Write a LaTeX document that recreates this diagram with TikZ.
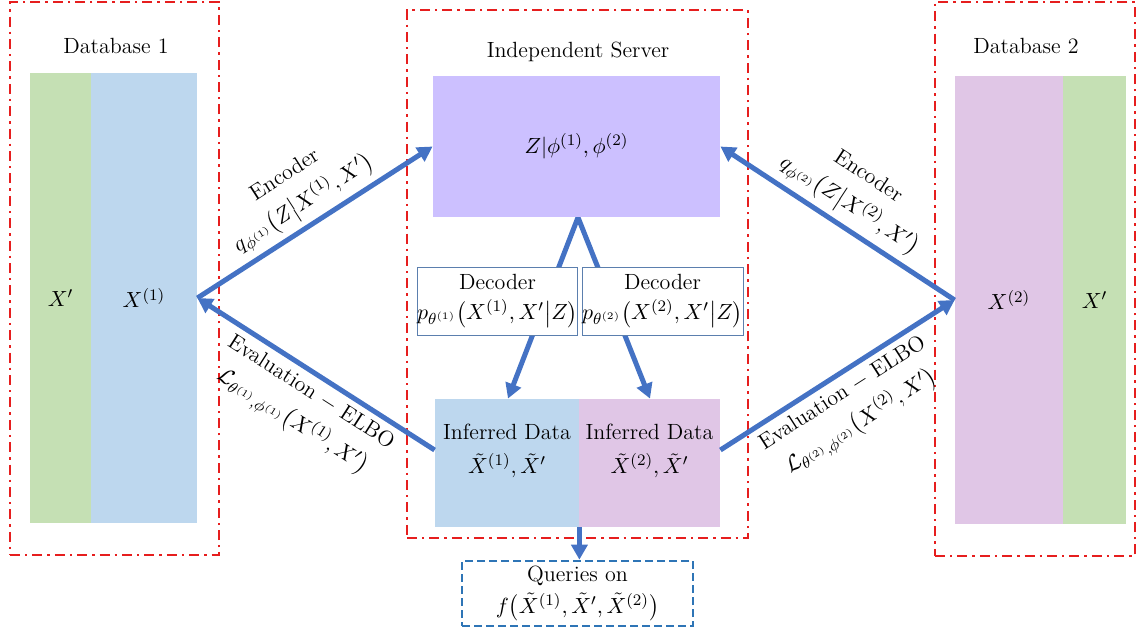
\documentclass[tikz,border=0pt]{standalone}
\usepackage{amsmath}
\usetikzlibrary{arrows.meta,calc}
\definecolor{flowblue}{HTML}{4472C4}
\definecolor{dbblue}{HTML}{BDD7EE}
\definecolor{sharedgreen}{HTML}{C5E0B4}
\definecolor{dbpurple}{HTML}{E0C6E6}
\definecolor{serverpurple}{HTML}{CCC0FF}
\definecolor{framered}{HTML}{E61E1E}
\definecolor{queryblue}{HTML}{2E75B6}
\definecolor{decborder}{HTML}{5B7FAE}
\pgfdeclarelayer{bg}
\pgfsetlayers{bg,main}
\tikzset{
  region/.style={rectangle, draw=framered, line width=1.2pt,
    dash pattern=on 5pt off 2.5pt on 1.2pt off 2.5pt, inner sep=0pt},
  block/.style={rectangle, draw=none, inner sep=0pt},
  decbox/.style={rectangle, draw=decborder, line width=0.5pt, fill=white,
    inner sep=0pt, align=center},
  query/.style={rectangle, draw=queryblue, line width=1.3pt,
    dash pattern=on 4pt off 2pt, inner sep=0pt, align=center},
  flow/.style={draw=flowblue, line width=2.5pt,
    -{Triangle[length=7.5pt,width=8pt]}},
  lbl/.style={align=center, inner sep=1pt},
  every node/.style={font=\fontsize{11pt}{14pt}\selectfont}
}
\begin{document}
\begin{tikzpicture}[x=0.5pt,y=-0.5pt]
\useasboundingbox (0,0) rectangle (1137,632);

% dash-dot frames of the three parties
\node[region, minimum width=104.5pt, minimum height=276.5pt] (db1frame) at (114.5,278.5) {};
\node[region, minimum width=170.5pt, minimum height=264pt] (srvframe) at (577.5,274) {};
\node[region, minimum width=100pt, minimum height=277pt] (db2frame) at (1035,279) {};

% titles
\node (db1title) at (116,46) {Database 1};
\node (srvtitle) at (578,52) {Independent Server};
\node (db2title) at (1026,46) {Database 2};

% database columns
\node[block, fill=sharedgreen, minimum width=30.5pt, minimum height=225pt] (xs1) at (60.5,298) {$X'$};
\node[block, fill=dbblue, minimum width=53pt, minimum height=225pt] (x1) at (144,298) {$X^{(1)}$};
\node[block, fill=dbpurple, minimum width=54pt, minimum height=224pt] (x2) at (1009,300) {$X^{(2)}$};
\node[block, fill=sharedgreen, minimum width=31.5pt, minimum height=224pt] (xs2) at (1094.5,300) {$X'$};

% server latent space
\node[block, fill=serverpurple, minimum width=143.5pt, minimum height=70.5pt] (server) at (576.5,146.5) {$Z|\phi^{(1)},\phi^{(2)}$};

% inferred data
\node[block, fill=dbblue, minimum width=72pt, minimum height=64pt] (inf1) at (507,463) {};
\node[block, fill=dbpurple, minimum width=70.5pt, minimum height=64pt] (inf2) at (649.5,463) {};
\node[lbl] (inf1text) at (507,451) {Inferred Data\\[3pt] $\tilde{X}^{(1)},\tilde{X}'$};
\node[lbl] (inf2text) at (649.5,451) {Inferred Data\\[3pt] $\tilde{X}^{(2)},\tilde{X}'$};

% decoder branches, drawn beneath the decoder boxes
\coordinate (apex) at ($(server.south)+(1.5,0)$);
\coordinate (dtip1) at ($(inf1.north)+(1,0)$);
\coordinate (dtip2) at ($(inf2.north)+(0.5,0)$);
\begin{pgfonlayer}{bg}
\draw[draw=flowblue, line width=2.5pt, line join=miter,
  {Triangle[length=7.5pt,width=8pt]}-{Triangle[length=7.5pt,width=8pt]}]
  (dtip1) -- (apex) -- (dtip2);
\end{pgfonlayer}

\node[decbox, minimum width=79.5pt, minimum height=34pt] (dec1) at (497.5,301)
  {Decoder\\[1pt] $p_{\theta^{(1)}}\bigl(X^{(1)},X'\big|Z\bigr)$};
\node[decbox, minimum width=80.5pt, minimum height=34pt] (dec2) at (662.5,301)
  {Decoder\\[1pt] $p_{\theta^{(2)}}\bigl(X^{(2)},X'\big|Z\bigr)$};

% query box
\node[query, minimum width=115.5pt, minimum height=32.5pt] (queries) at (577.5,593.5)
  {Queries on\\[2pt] $f\bigl(\tilde{X}^{(1)},\tilde{X}',\tilde{X}^{(2)}\bigr)$};

% encoder arrows
\draw[flow] (x1.east) -- (server.west);
\draw[flow] (x2.west) -- (server.east);
\path (x1.east) -- (server.west) node[midway, sloped, above=3pt, lbl]
  {Encoder\\[3pt] $q_{\phi^{(1)}}\bigl(Z\big|X^{(1)},X'\bigr)$};
\path (server.east) -- (x2.west) node[midway, sloped, above=3pt, lbl]
  {Encoder\\[3pt] $q_{\phi^{(2)}}\bigl(Z\big|X^{(2)},X'\bigr)$};

% evaluation arrows
\coordinate (ev1) at ($(inf1.west)+(0,-13)$);
\coordinate (ev2) at ($(inf2.east)+(0,-13)$);
\draw[flow] (ev1) -- (x1.east);
\draw[flow] (ev2) -- (x2.west);
\path (x1.east) -- (ev1) node[pos=0.52, sloped, below=3pt, lbl]
  {Evaluation $-$ ELBO\\[3pt] $\mathcal{L}_{\theta^{(1)},\phi^{(1)}}\bigl(X^{(1)},X'\bigr)$};
\path (ev2) -- (x2.west) node[pos=0.48, sloped, below=3pt, lbl]
  {Evaluation $-$ ELBO\\[3pt] $\mathcal{L}_{\theta^{(2)},\phi^{(2)}}\bigl(X^{(2)},X'\bigr)$};

% query arrow
\draw[flow] (inf1.south east) -- (inf1.south east |- queries.north);
\end{tikzpicture}
\end{document}
